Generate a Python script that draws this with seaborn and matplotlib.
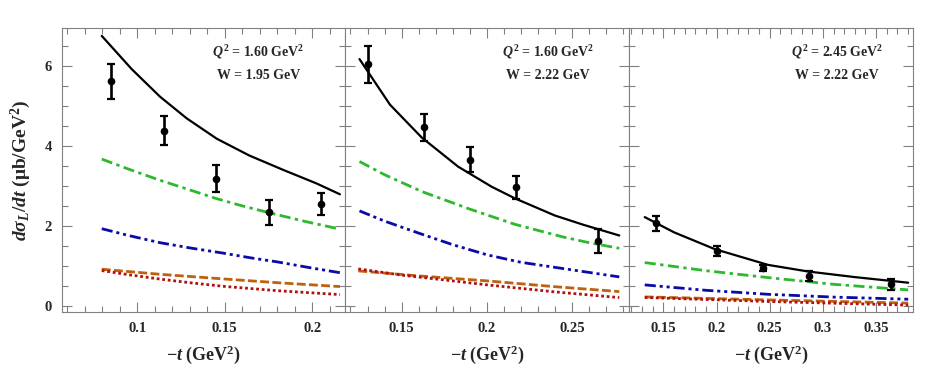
import numpy as np
import pandas as pd
import matplotlib
matplotlib.use("Agg")
import matplotlib.pyplot as plt
import seaborn as sns
from matplotlib.ticker import MultipleLocator

# ==============================
# Data
# ==============================
# panel 1: Q2 = 1.60, W = 1.95
p1_black_x = [0.0797, 0.0968, 0.113, 0.1282, 0.1454, 0.164, 0.1834, 0.2025, 0.2158]
p1_black_y = [6.75, 5.92, 5.23, 4.69, 4.18, 3.76, 3.40, 3.06, 2.79]
p1_green_x = [0.0797, 0.095, 0.113, 0.13, 0.1454, 0.16, 0.1753, 0.195, 0.2158]
p1_green_y = [3.67, 3.42, 3.14, 2.90, 2.68, 2.50, 2.33, 2.12, 1.92]
p1_blue_x = [0.0797, 0.095, 0.113, 0.13, 0.149, 0.165, 0.18, 0.198, 0.2158]
p1_blue_y = [1.93, 1.76, 1.58, 1.45, 1.32, 1.20, 1.10, 0.96, 0.83]
p1_orange_x = [0.0797, 0.113, 0.149, 0.18, 0.2158]
p1_orange_y = [0.917, 0.79, 0.675, 0.58, 0.483]
p1_red_x = [0.0797, 0.095, 0.113, 0.13, 0.149, 0.18, 0.2158]
p1_red_y = [0.883, 0.78, 0.67, 0.58, 0.49, 0.38, 0.283]
p1_data_x = [0.085, 0.115, 0.145, 0.175, 0.205]
p1_data_y = [5.61, 4.375, 3.18, 2.34, 2.55]
p1_data_err = [0.43, 0.36, 0.33, 0.32, 0.28]

# panel 2: Q2 = 1.60, W = 2.22
p2_black_x = [0.1253, 0.1432, 0.1618, 0.1832, 0.2028, 0.2164, 0.2399, 0.2565, 0.2777]
p2_black_y = [6.17, 5.03, 4.21, 3.48, 2.98, 2.69, 2.26, 2.03, 1.76]
p2_green_x = [0.1253, 0.14, 0.1618, 0.19, 0.2164, 0.245, 0.26, 0.2777]
p2_green_y = [3.61, 3.28, 2.86, 2.42, 2.04, 1.72, 1.58, 1.44]
p2_blue_x = [0.1253, 0.14, 0.16, 0.18, 0.2003, 0.22, 0.25, 0.2777]
p2_blue_y = [2.375, 2.12, 1.82, 1.53, 1.275, 1.09, 0.90, 0.725]
p2_orange_x = [0.1246, 0.16, 0.2003, 0.24, 0.2777]
p2_orange_y = [0.875, 0.75, 0.625, 0.48, 0.358]
p2_red_x = [0.1246, 0.15, 0.175, 0.2003, 0.24, 0.2777]
p2_red_y = [0.925, 0.77, 0.65, 0.525, 0.35, 0.208]
p2_data_x = [0.13, 0.163, 0.19, 0.217, 0.265]
p2_data_y = [6.04, 4.46, 3.65, 2.96, 1.61]
p2_data_err = [0.47, 0.35, 0.31, 0.30, 0.30]

# panel 3: Q2 = 2.45, W = 2.22
p3_black_x = [0.1325, 0.16, 0.1983, 0.2485, 0.2861, 0.33, 0.3802]
p3_black_y = [2.22, 1.84, 1.42, 1.025, 0.86, 0.72, 0.58]
p3_green_x = [0.1325, 0.19, 0.2485, 0.31, 0.3802]
p3_green_y = [1.083, 0.88, 0.708, 0.54, 0.40]
p3_blue_x = [0.1325, 0.19, 0.2485, 0.31, 0.3802]
p3_blue_y = [0.525, 0.39, 0.29, 0.22, 0.167]
p3_orange_x = [0.1325, 0.2485, 0.3802]
p3_orange_y = [0.225, 0.15, 0.07]
p3_red_x = [0.1325, 0.2485, 0.3802]
p3_red_y = [0.21, 0.11, 0.02]
p3_data_x = [0.1434, 0.2, 0.2435, 0.287, 0.3645]
p3_data_y = [2.07, 1.375, 0.95, 0.75, 0.54]
p3_data_err = [0.19, 0.12, 0.08, 0.13, 0.13]

panel_labels = [r"$Q^2$ = 1.60 GeV$^2$", r"$Q^2$ = 1.60 GeV$^2$", r"$Q^2$ = 2.45 GeV$^2$"]
w_labels = ["W = 1.95 GeV", "W = 2.22 GeV", "W = 2.22 GeV"]
xlims = [(0.0568, 0.2187), (0.1168, 0.2834), (0.1177, 0.385)]
xticks = [[0.1, 0.15, 0.2], [0.15, 0.2, 0.25], [0.15, 0.2, 0.25, 0.3, 0.35]]
xtick_labels = [["0.1", "0.15", "0.2"], ["0.15", "0.2", "0.25"],
                ["0.15", "0.2", "0.25", "0.3", "0.35"]]

panels = [
    (p1_black_x, p1_black_y, p1_green_x, p1_green_y, p1_blue_x, p1_blue_y,
     p1_orange_x, p1_orange_y, p1_red_x, p1_red_y, p1_data_x, p1_data_y, p1_data_err),
    (p2_black_x, p2_black_y, p2_green_x, p2_green_y, p2_blue_x, p2_blue_y,
     p2_orange_x, p2_orange_y, p2_red_x, p2_red_y, p2_data_x, p2_data_y, p2_data_err),
    (p3_black_x, p3_black_y, p3_green_x, p3_green_y, p3_blue_x, p3_blue_y,
     p3_orange_x, p3_orange_y, p3_red_x, p3_red_y, p3_data_x, p3_data_y, p3_data_err),
]

# ==============================
# Style
# ==============================
sns.set_theme(style="ticks")
plt.rcParams['font.family'] = ['Liberation Serif', 'DejaVu Serif']
plt.rcParams['font.weight'] = 'bold'
plt.rcParams['axes.labelweight'] = 'bold'
plt.rcParams['mathtext.fontset'] = 'custom'
plt.rcParams['mathtext.rm'] = 'Liberation Serif:bold'
plt.rcParams['mathtext.it'] = 'Liberation Serif:bold:italic'
plt.rcParams['mathtext.bf'] = 'Liberation Serif:bold'

frame_col = '0.5'
styles = [
    ('black', '-', 1.6),
    ('#2db82d', (0, (4.0, 1.6, 1.2, 1.6)), 2.0),
    ('#0a0aa8', (0, (4.0, 1.4, 1.1, 1.4, 1.1, 1.4)), 2.0),
    ('#c0600c', (0, (3.2, 1.2)), 2.0),
    ('#b01010', (0, (1.0, 1.0)), 2.0),
]

fig = plt.figure(figsize=(9.26, 3.84), dpi=100)
lefts = [61.7 / 926, 345 / 926, 629 / 926]
widths = [283.3 / 926, 284.0 / 926, 284.3 / 926]
bottom = 71.7 / 384
height = 284 / 384

for i, pdata in enumerate(panels):
    ax = fig.add_axes([lefts[i], bottom, widths[i], height])
    curves = [(pdata[0], pdata[1]), (pdata[2], pdata[3]), (pdata[4], pdata[5]),
              (pdata[6], pdata[7]), (pdata[8], pdata[9])]
    for (cx, cy), (col, ls, lw) in zip(curves, styles):
        sns.lineplot(x=cx, y=cy, color=col, linestyle=ls, linewidth=lw,
                     sort=False, estimator=None, ax=ax)
    dx, dy, de = pdata[10], pdata[11], pdata[12]
    ax.errorbar(dx, dy, yerr=de, fmt='o', color='black', markersize=4.5,
                elinewidth=1.9, capsize=3.2, capthick=1.6, zorder=5)

    ax.set_xlim(*xlims[i])
    ax.set_ylim(-0.16, 6.94)
    ax.set_xticks(xticks[i])
    ax.set_xticklabels(xtick_labels[i])
    ax.xaxis.set_minor_locator(MultipleLocator(0.01))
    ax.yaxis.set_major_locator(MultipleLocator(2))
    ax.yaxis.set_minor_locator(MultipleLocator(0.5))
    ax.tick_params(which='both', direction='in', top=True, right=True,
                   color=frame_col, width=0.8)
    ax.tick_params(which='major', length=7, labelsize=10.5, pad=7)
    ax.tick_params(which='minor', length=4)
    for sp in ax.spines.values():
        sp.set_color(frame_col)
        sp.set_linewidth(0.8)
    if i == 0:
        ax.set_yticks([0, 2, 4, 6])
        ax.set_yticklabels(["0", "2", "4", "6"])
        ax.set_ylabel(r"$d\sigma_L/dt$ (μb/GeV$^2$)", fontsize=14, labelpad=8)
    else:
        ax.set_yticklabels([])
    ax.set_xlabel(r"$-t$ (GeV$^2$)", fontsize=13, labelpad=6)
    xc = [0.694, 0.715, 0.732][i]
    ax.text(xc, 0.917, panel_labels[i], transform=ax.transAxes,
            ha='center', va='center', fontsize=10, fontweight='bold')
    ax.text(xc, 0.835, w_labels[i], transform=ax.transAxes,
            ha='center', va='center', fontsize=10, fontweight='bold')

fig.savefig("out.png", dpi=100)
